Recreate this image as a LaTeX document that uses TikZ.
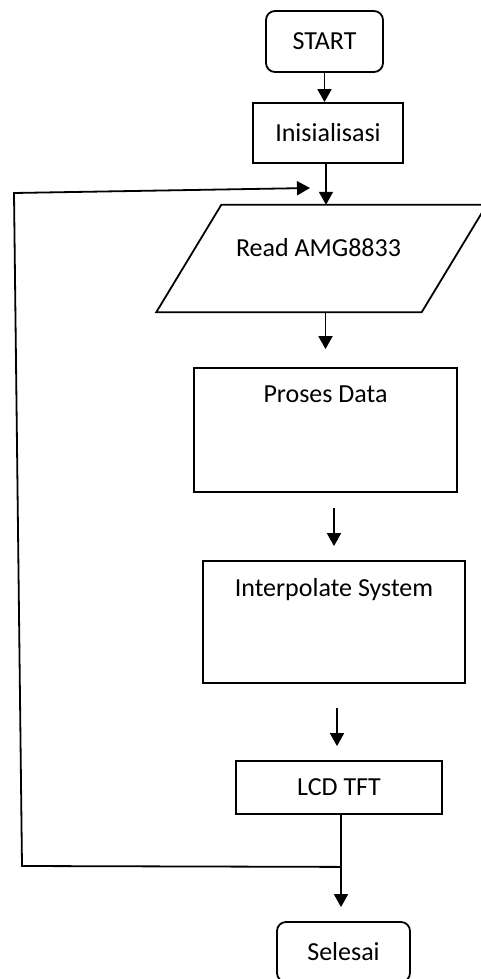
\documentclass[tikz,border=0pt]{standalone}
\usepackage{fontspec}
\setmainfont{Carlito}
\usetikzlibrary{arrows.meta,calc}

\tikzset{
  procbox/.style={draw, line width=1.8pt, inner sep=0pt},
  termbox/.style={procbox, rounded corners=9pt},
  arr/.style={-{Triangle[width=14pt,length=13pt]}, line width=1.8pt},
}

\begin{document}
\begin{tikzpicture}[x=1pt, y=-1pt, font=\fontsize{26}{31}\selectfont]
                \useasboundingbox (0,0) rectangle (480,979);
                % nodes
                \node[termbox, minimum width=117, minimum height=61] (start) at (324.5,41.5) {START};
                \node[procbox, minimum width=150, minimum height=60] (init) at (328,133) {Inisialisasi};
                \node[minimum width=265, minimum height=107, inner sep=0pt,
                      label={[anchor=center, xshift=-3pt, yshift=-43pt]north:Read AMG8833}] (read) at (321.5,258.5) {};
                \draw[line width=1.8pt, line join=miter] ([xshift=32.5pt]read.north west) -- ([xshift=32.5pt]read.north east)
                      -- ([xshift=-32.5pt]read.south east) -- ([xshift=-32.5pt]read.south west) -- cycle;
                \node[procbox, minimum width=263, minimum height=124,
                      label={[anchor=center, yshift=-27pt]north:Proses Data}] (proses) at (325.5,430) {};
                \node[procbox, minimum width=262, minimum height=122,
                      label={[anchor=center, yshift=-29pt]north:Interpolate System}] (interp) at (334,622) {};
                \node[procbox, minimum width=206, minimum height=53] (lcd) at (339,787.5) {LCD TFT};
                \node[termbox, minimum width=133, minimum height=60] (selesai) at (343.5,952) {Selesai};
                % connectors
                \draw[arr] (start.south) -- (start.south |- init.north);
                \draw[arr] ($(init.south)+(-2,0)$) -- ($(init.south |- read.north)+(-2,0)$);
                \draw[arr] (proses.north |- read.south) -- ($(proses.north)+(0,-18)$);
                \draw[arr] ($(interp.north |- proses.south)+(0,15)$) -- ($(interp.north)+(0,-14)$);
                \draw[arr] ($(lcd.north |- interp.south)+(-2,24)$) -- ($(lcd.north)+(-2,-14)$);
                \draw[arr] ($(lcd.south)+(2,0)$) -- ($(lcd.south |- selesai.north)+(2,-14)$);
                % loop back
                \coordinate (join) at ($(lcd.south)+(2,52)$);
                \coordinate (loopin) at (310,188);
                \draw[arr] (join) -- (22,866) -- (14,193) -- (loopin);
            \end{tikzpicture}
\end{document}
